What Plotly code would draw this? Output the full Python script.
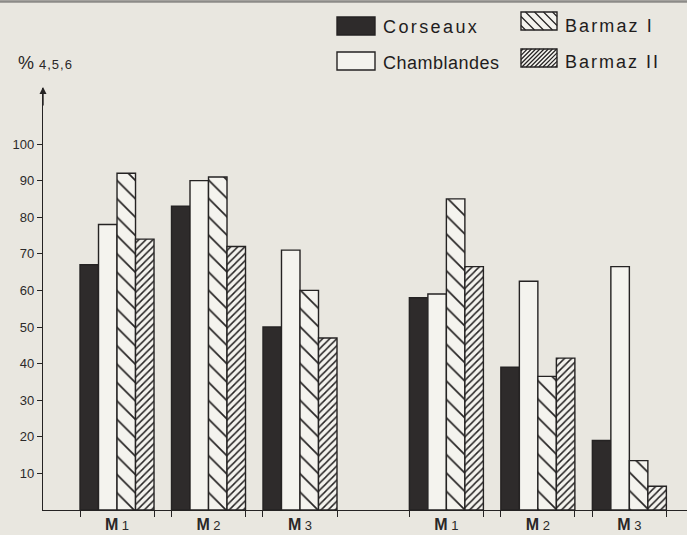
import plotly.graph_objects as go

# ---------------- data ----------------
series_names = ["Corseaux", "Chamblandes", "Barmaz I", "Barmaz II"]
group_labels = ["M1", "M2", "M3", "M1", "M2", "M3"]
group_pos = [0, 1, 2, 3.6, 4.6, 5.6]          # two sets of molars, gap between them
corseaux = [67, 83, 50, 58, 39, 19]
chamblandes = [78, 90, 71, 59, 62.5, 66.5]
barmaz_1 = [92, 91, 60, 85, 36.5, 13.5]
barmaz_2 = [74, 72, 47, 66.5, 41.5, 6.5]
y_ticks = [10, 20, 30, 40, 50, 60, 70, 80, 90, 100]
y_title_main = "%"
y_title_sub = "4,5,6"

# ---------------- layout constants ----------------
W, H = 687, 535
L, R, T, B = 43, 0, 88, 25
PAPER = "#e9e7e0"
INK = "#252323"
WHITE = "#f4f3ee"
DARK = "#2e2b2b"
FONT = "Liberation Sans, Arial, sans-serif"
GROUP_W = 0.809


def fx(x):
    return (x - L) / (W - L - R)


def fy(y):
    return (H - B - y) / (H - T - B)


fig = go.Figure()
line = dict(color=INK, width=1.4)
fig.add_trace(go.Bar(x=group_pos, y=corseaux, name=series_names[0],
                     marker=dict(color=DARK, line=line)))
fig.add_trace(go.Bar(x=group_pos, y=chamblandes, name=series_names[1],
                     marker=dict(color=WHITE, line=line)))
fig.add_trace(go.Bar(x=group_pos, y=barmaz_1, name=series_names[2],
                     marker=dict(color=WHITE, line=line,
                                 pattern=dict(shape="\\", size=13, solidity=0.13,
                                              fgcolor=INK, bgcolor=WHITE,
                                              fillmode="replace"))))
fig.add_trace(go.Bar(x=group_pos, y=barmaz_2, name=series_names[3],
                     marker=dict(color=WHITE, line=line,
                                 pattern=dict(shape="/", size=5, solidity=0.3,
                                              fgcolor=INK, bgcolor=WHITE,
                                              fillmode="replace"))))

edges = []
for p in group_pos:
    edges += [p - GROUP_W / 2, p + GROUP_W / 2]

ticktext = ["<b>M</b><span style='font-size:13px'> %s</span>" % g[1:] for g in group_labels]

fig.update_layout(
    width=W, height=H,
    margin=dict(l=L, r=R, t=T, b=B, pad=0),
    paper_bgcolor=PAPER, plot_bgcolor=PAPER,
    barmode="group", bargap=1 - GROUP_W, bargroupgap=0,
    showlegend=False,
    font=dict(family=FONT, color=INK),
    xaxis=dict(range=[-0.809, 6.23], showgrid=False, zeroline=False,
               showline=True, linecolor=INK, linewidth=1.4,
               tickmode="array", tickvals=group_pos, ticktext=ticktext,
               ticks="", tickfont=dict(size=16, color="#2a2828", family=FONT),
               minor=dict(tickmode="array", tickvals=edges, ticks="outside",
                          ticklen=6, tickwidth=1.2, tickcolor=INK)),
    yaxis=dict(range=[0, 115.3], showgrid=False, zeroline=False,
               showline=True, linecolor=INK, linewidth=1.4,
               tickmode="array", tickvals=y_ticks, ticks="outside",
               ticklen=5, tickwidth=1.2, tickcolor=INK,
               tickfont=dict(size=13, color="#2c2a2a", family=FONT)),
)

shapes = []
annotations = []

# top scan border
shapes.append(dict(type="line", xref="paper", yref="paper",
                   x0=fx(0), x1=fx(W), y0=fy(1.5), y1=fy(1.5),
                   line=dict(color="#8c8b88", width=2.5)))

# y axis arrow
annotations.append(dict(xref="paper", yref="paper", x=0, y=fy(87), ax=0, ay=20,
                        text="", showarrow=True, arrowhead=2, arrowsize=1,
                        arrowwidth=1.4, arrowcolor=INK))
annotations.append(dict(xref="paper", yref="paper", x=fx(16), y=fy(63),
                        xanchor="left", yanchor="middle", showarrow=False,
                        text="%s&nbsp;<span style='font-size:13px;letter-spacing:1px'>%s</span>" % (y_title_main, y_title_sub),
                        font=dict(size=18, color="#2a2828", family=FONT)))


def hatch_path(x0, y0, x1, y1, spacing, shape):
    segs = []
    if shape == "\\":
        c = y0 - x1 + spacing / 2
        while c < y1 - x0:
            xa, xb = max(x0, y0 - c), min(x1, y1 - c)
            if xb > xa:
                segs.append("M%.5f,%.5f L%.5f,%.5f" % (fx(xa), fy(xa + c), fx(xb), fy(xb + c)))
            c += spacing
    else:
        c = x0 + y0 + spacing / 2
        while c < x1 + y1:
            xa, xb = max(x0, c - y1), min(x1, c - y0)
            if xb > xa:
                segs.append("M%.5f,%.5f L%.5f,%.5f" % (fx(xa), fy(c - xa), fx(xb), fy(c - xb)))
            c += spacing
    return " ".join(segs)


# name, box (px), fill, hatch, text centre y (px), letter spacing (px)
legend_items = [
    (series_names[0], (337, 17, 375, 35), DARK, None, 27, 2.4),
    (series_names[1], (337, 52, 375, 70), WHITE, None, 63, 0.5),
    (series_names[2], (521, 12, 557, 30), WHITE, ("\\", 9), 26, 2.1),
    (series_names[3], (521, 49, 557, 67), WHITE, ("/", 4.2), 62, 2.0),
]
for name, (x0, y0, x1, y1), fill, hatch, ty, ls in legend_items:
    shapes.append(dict(type="rect", xref="paper", yref="paper",
                       x0=fx(x0), x1=fx(x1), y0=fy(y1), y1=fy(y0),
                       fillcolor=fill, line=dict(color=INK, width=1.4)))
    if hatch:
        shapes.append(dict(type="path", xref="paper", yref="paper",
                           path=hatch_path(x0, y0, x1, y1, hatch[1], hatch[0]),
                           line=dict(color=INK, width=1.2)))
    annotations.append(dict(xref="paper", yref="paper", x=fx(x1 + 6), y=fy(ty),
                            xanchor="left", yanchor="middle", showarrow=False,
                            text="<span style='letter-spacing:%.1fpx'>%s</span>" % (ls, name),
                            font=dict(size=18, color="#1f1d1d", family=FONT)))

fig.update_layout(shapes=shapes, annotations=annotations)
fig.write_html("out.html",
               config={"displayModeBar": False},
               post_script="document.body.style.margin='0';document.body.style.background='%s';" % PAPER)
